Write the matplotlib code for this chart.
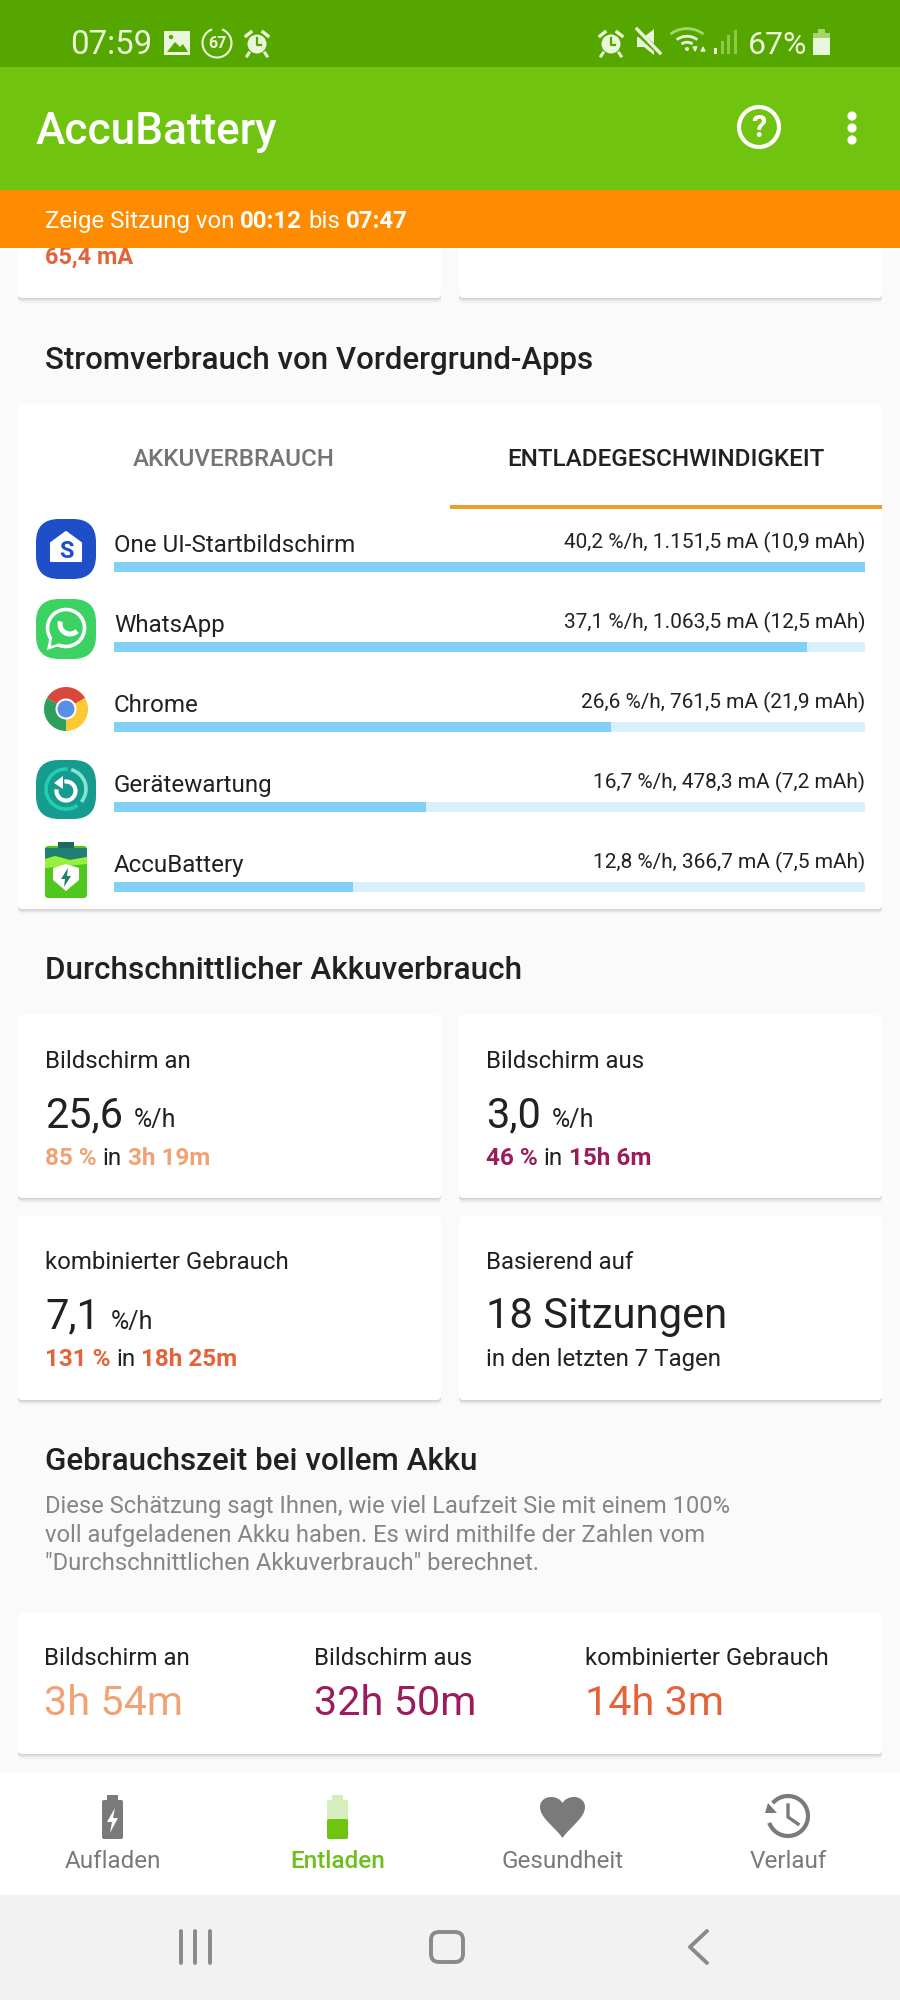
import matplotlib
matplotlib.use('Agg')
import matplotlib.pyplot as plt
from matplotlib.patches import Rectangle, FancyBboxPatch, Circle, Wedge, Arc, Polygon, PathPatch
from matplotlib.path import Path

plt.rcParams['font.family'] = ['Roboto', 'DejaVu Sans']

# app list values
apps = ['One UI-Startbildschirm', 'WhatsApp', 'Chrome', 'Gerätewartung', 'AccuBattery']
rates = [40.2, 37.1, 26.6, 16.7, 12.8]
currents = ['1.151,5', '1.063,5', '761,5', '478,3', '366,7']
used = ['10,9', '12,5', '21,9', '7,2', '7,5']

avg_titles = ['Bildschirm an', 'Bildschirm aus', 'kombinierter Gebrauch']
avg_rates = ['25,6', '3,0', '7,1']
avg_percent = ['85 %', '46 %', '131 %']
avg_time = ['3h 19m', '15h 6m', '18h 25m']
full_time = ['3h 54m', '32h 50m', '14h 3m']
nav_labels = ['Aufladen', 'Entladen', 'Gesundheit', 'Verlauf']

BG = '#FAFAFA'
DARK = '#212121'
GREY = '#7A7A7A'
STATUS = '#EAF6DC'
GREEN = '#70C40F'
usage_colors = ['#F0A274', '#9B1B5C', '#E4633A']

W, H = 900, 2000
fig = plt.figure(figsize=(W / 100, H / 100), dpi=100, facecolor=BG)
ax = fig.add_axes([0, 0, 1, 1])
ax.set_xlim(0, W)
ax.set_ylim(H, 0)
ax.axis('off')


def txt(x, y, s, px, color=DARK, weight='normal', ha='left', z=5):
    return ax.text(x, y, s, fontsize=px * 0.72, color=color, fontweight=weight,
                   ha=ha, va='baseline', zorder=z)


def run(x, y, parts, px, z=5):
    # several coloured pieces on one baseline
    rend = fig.canvas.get_renderer()
    for s, color, weight in parts:
        t = txt(x, y, s, px, color, weight, z=z)
        x += t.get_window_extent(rend).width + px * 0.24


def rect(x0, y0, x1, y1, color, z=1, alpha=1):
    ax.add_patch(Rectangle((x0, y0), x1 - x0, y1 - y0, fc=color, ec='none', zorder=z, alpha=alpha))


def card(x0, y0, x1, y1):
    for off, a in [(5, 0.03), (3, 0.05), (1.5, 0.08)]:
        ax.add_patch(FancyBboxPatch((x0, y0 + off), x1 - x0, y1 - y0, boxstyle='round,pad=0,rounding_size=4',
                                    fc='black', ec='none', alpha=a, zorder=1))
    ax.add_patch(FancyBboxPatch((x0, y0), x1 - x0, y1 - y0, boxstyle='round,pad=0,rounding_size=4',
                                fc='white', ec='none', zorder=2))


def squircle(x0, y0, x1, y1, color, r=23, z=4):
    ax.add_patch(FancyBboxPatch((x0, y0), x1 - x0, y1 - y0, boxstyle='round,pad=0,rounding_size=%d' % r,
                                fc=color, ec='none', zorder=z))


def alarm(cx, cy, color):
    ax.add_patch(Circle((cx, cy), 9.5, fc=color, ec='none', zorder=9))
    ax.plot([cx, cx, cx + 4], [cy - 6, cy + 1, cy + 1], color='#56A600', lw=1.6, zorder=10)
    ax.plot([cx - 11, cx - 6], [cy - 8, cy - 12], color=color, lw=2.4, zorder=9)
    ax.plot([cx + 11, cx + 6], [cy - 8, cy - 12], color=color, lw=2.4, zorder=9)
    ax.plot([cx - 8, cx - 10], [cy + 9, cy + 12], color=color, lw=2.2, zorder=9)
    ax.plot([cx + 8, cx + 10], [cy + 9, cy + 12], color=color, lw=2.2, zorder=9)


# ---- top bars
rect(0, 0, W, 67, '#56A600', 8)
rect(0, 67, W, 190, GREEN, 8)
rect(0, 190, W, 248, '#FF8C00', 8)
txt(70, 54, '07:59', 33, STATUS, z=9)
rect(164, 31, 190, 55, STATUS, 9)
ax.add_patch(Polygon([(167, 52), (175, 42), (180, 47), (183, 44), (188, 52)], fc='#56A600', ec='none', zorder=10))
ax.add_patch(Circle((171, 37), 2.2, fc='#56A600', ec='none', zorder=10))
ax.add_patch(Arc((217, 43), 29, 29, theta1=-70, theta2=250, color=STATUS, lw=1.5, zorder=9))
ax.text(217, 43, '67', fontsize=11.5, color=STATUS, ha='center', va='center', fontweight='bold', zorder=9)
alarm(257, 44, STATUS)

alarm(611, 44, STATUS)
ax.add_patch(Polygon([(637, 37), (644, 37), (654, 29), (654, 55), (644, 47), (637, 47)], fc=STATUS, ec='none', zorder=9))
ax.plot([636, 661], [31, 54], color='#56A600', lw=4, zorder=10)
ax.plot([637, 660], [29, 53], color=STATUS, lw=2.4, zorder=11)
for r, c in [(24, '#A5D66C'), (15, STATUS), (8, STATUS)]:
    ax.add_patch(Arc((687, 49), r * 2, r * 1.7, theta1=222, theta2=318, color=c, lw=2, zorder=9))
ax.add_patch(Circle((687, 49), 2, fc=STATUS, ec='none', zorder=9))
ax.annotate('', xy=(695, 55), xytext=(695, 46), arrowprops=dict(arrowstyle='-|>', color=STATUS, lw=1.2, mutation_scale=6), zorder=9)
ax.annotate('', xy=(703, 43), xytext=(703, 53), arrowprops=dict(arrowstyle='-|>', color=STATUS, lw=1.2, mutation_scale=6), zorder=9)
for i, top in enumerate([48, 41, 35, 30]):
    rect(714 + i * 6.6, top, 717 + i * 6.6, 54, STATUS if i == 0 else '#8CCB4A', 9)
txt(748, 54, '67%', 32, STATUS, z=9)
rect(818, 29, 825, 33, '#A5D66C', 9)
rect(813, 33, 830, 38, '#A5D66C', 9)
rect(813, 38, 830, 55, STATUS, 9)

txt(36, 144, 'AccuBattery', 44.2, 'white', 'medium', z=9)
ax.add_patch(Circle((759, 127), 20, fc='none', ec='white', lw=3, zorder=9))
ax.text(759, 128, '?', fontsize=22, color='white', fontweight='bold', ha='center', va='center', zorder=9)
for yy in [116, 128, 140]:
    ax.add_patch(Circle((852, yy), 4.6, fc='white', ec='none', zorder=9))

run(45, 228, [('Zeige Sitzung von', 'white', 'normal'), ('00:12', 'white', 'bold'),
              ('bis', 'white', 'normal'), ('07:47', 'white', 'bold')], 24, z=9)

# ---- cards cut off by the banner
card(18, 230, 441, 298)
card(459, 230, 882, 298)
txt(45, 264, '65,4 mA', 23.5, usage_colors[2], 'bold')

txt(45, 369, 'Stromverbrauch von Vordergrund-Apps', 31.3, DARK, 'medium')

# ---- app list card
card(18, 404, 882, 909)
txt(233.5, 466, 'AKKUVERBRAUCH', 24.1, '#757575', 'medium', ha='center')
txt(666, 466, 'ENTLADEGESCHWINDIGKEIT', 24.2, DARK, 'medium', ha='center')
rect(450, 505, 882, 509, '#E8A02C', 5)

for i, app in enumerate(apps):
    txt(114, 552 + 80 * i, app, 24.1)
    label = '%s %%/h, %s mA (%s mAh)' % (str(rates[i]).replace('.', ','), currents[i], used[i])
    txt(865, 548 + 80 * i, label, 20.9, ha='right')

# bars share one small axes, full width is the fastest app
ax_bar = fig.add_axes([114 / W, 1 - 903 / H, (865 - 114) / W, (903 - 527) / H])
ax_bar.patch.set_alpha(0)
ax_bar.barh(range(len(apps)), [max(rates)] * len(apps), height=0.125, color='#D9F0FC')
ax_bar.barh(range(len(apps)), rates, height=0.125, color='#81D0F6')
ax_bar.set_xlim(0, max(rates))
ax_bar.set_ylim(4.2, -0.5)
ax_bar.axis('off')

# One UI icon
squircle(36, 519, 96, 579, '#1F4FC8')
ax.add_patch(Polygon([(66, 532), (81, 543), (81, 561), (51, 561), (51, 543)], fc='white', ec='white', lw=1.5, joinstyle='round', zorder=5))
ax.text(66, 551, 'S', fontsize=17, color='#1F4FC8', fontweight='bold', ha='center', va='center', zorder=6)

# WhatsApp icon
squircle(36, 599, 96, 659, '#3CD263')
ax.add_patch(Polygon([(50, 635), (47, 650), (62, 645)], fc='white', ec='none', zorder=5))
ax.add_patch(Circle((66, 628), 18.5, fc='#3CD263', ec='white', lw=2.6, zorder=5))
ax.add_patch(Polygon([(52, 637), (51, 646), (60, 643)], fc='#3CD263', ec='none', zorder=6))
ax.add_patch(Arc((70, 624), 20, 20, theta1=45, theta2=195, color='white', lw=3.6, zorder=6))

# Chrome icon
for t1, t2, c in [(210, 330, '#D9483B'), (330, 450, '#FCC934'), (90, 210, '#2E9E5B')]:
    ax.add_patch(Wedge((66, 709), 22, t1, t2, fc=c, ec='none', zorder=5))
ax.add_patch(Circle((66, 709), 10.5, fc='white', ec='none', zorder=6))
ax.add_patch(Circle((66, 709), 8.5, fc='#5A8FE8', ec='none', zorder=7))

# device care icon
squircle(36, 760, 96, 819, '#169C8E')
ax.add_patch(Arc((66, 789), 40, 40, theta1=-75, theta2=40, color='#7FE6CF', lw=2.6, zorder=5))
ax.add_patch(Arc((66, 789), 40, 40, theta1=55, theta2=275, color='#22CDB0', lw=2.6, zorder=5))
ax.add_patch(Arc((66, 791), 19, 19, theta1=-100, theta2=190, color='white', lw=3, zorder=5))
ax.add_patch(Polygon([(54, 783), (63, 776), (63, 789)], fc='white', ec='none', zorder=6))

# AccuBattery icon
rect(58, 842, 74, 848, '#1D6B60', 5)
ax.add_patch(FancyBboxPatch((45, 846), 42, 52, boxstyle='round,pad=0,rounding_size=3', fc='#4FC71F', ec='none', zorder=4))
ax.add_patch(Polygon([(45, 848), (87, 848), (87, 857), (70, 860), (55, 856), (45, 859)], fc='#1F7F70', ec='none', zorder=5))
ax.add_patch(Polygon([(45, 859), (55, 856), (70, 860), (87, 857), (87, 864), (45, 868)], fc='#96F03C', ec='none', zorder=5))
ax.add_patch(Polygon([(66, 864), (79, 868), (79, 880), (66, 891), (53, 880), (53, 868)], fc='white', ec='none', zorder=6))
ax.add_patch(Polygon([(68, 868), (61, 879), (65, 879), (64, 887), (71, 876), (67, 876)], fc='#1F7F70', ec='none', zorder=7))

# ---- average usage cards
txt(45, 979, 'Durchschnittlicher Akkuverbrauch', 31.5, DARK, 'medium')
card(18, 1015, 441, 1198)
card(459, 1015, 882, 1198)
card(18, 1216, 441, 1400)
card(459, 1216, 882, 1400)

avg_x = [45, 486, 45]
avg_y = [0, 0, 201]
unit_x = [134, 552, 111]
for i in range(3):
    x, dy = avg_x[i], avg_y[i]
    txt(x, 1068 + dy, avg_titles[i], 24)
    txt(x, 1127.5 + dy, avg_rates[i], 41.5)
    txt(unit_x[i], 1127.5 + dy, '%/h', 25)
    run(x, 1165 + dy, [(avg_percent[i], usage_colors[i], 'bold'), ('in', DARK, 'normal'),
                       (avg_time[i], usage_colors[i], 'bold')], 24.3)

txt(486, 1269, 'Basierend auf', 24)
txt(486, 1328, '18 Sitzungen', 41.7)
txt(486, 1366, 'in den letzten 7 Tagen', 24)

txt(45, 1469.5, 'Gebrauchszeit bei vollem Akku', 31.4, DARK, 'medium')
txt(45, 1513, 'Diese Schätzung sagt Ihnen, wie viel Laufzeit Sie mit einem 100%', 23.8, '#858585')
txt(45, 1542, 'voll aufgeladenen Akku haben. Es wird mithilfe der Zahlen vom', 23.8, '#858585')
txt(45, 1570, '"Durchschnittlichen Akkuverbrauch" berechnet.', 23.8, '#858585')

# ---- full charge card
card(18, 1613, 882, 1754)
full_x = [44, 314, 585]
for i in range(3):
    txt(full_x[i], 1665, avg_titles[i], 24)
    txt(full_x[i], 1715, full_time[i], 41.4, usage_colors[i])

# ---- bottom navigation
rect(0, 1773, W, 1895, 'white', 3)
rect(0, 1895, W, H, '#F2F2F2', 3)
nav_x = [113, 337.5, 562.5, 788]
for i, name in enumerate(nav_labels):
    txt(nav_x[i], 1868, name, 24.2, '#6FBF1B' if i == 1 else GREY, 'medium' if i == 1 else 'normal', ha='center')

rect(107, 1795, 118, 1801, GREY, 5)
ax.add_patch(FancyBboxPatch((102, 1800), 21, 39, boxstyle='round,pad=0,rounding_size=2', fc=GREY, ec='none', zorder=5))
ax.add_patch(Polygon([(115, 1808), (107, 1822), (112, 1822), (110, 1833), (118, 1818), (113, 1818)], fc='white', ec='none', zorder=6))

rect(332, 1795, 343, 1801, '#D5EEBB', 5)
ax.add_patch(FancyBboxPatch((327, 1800), 21, 39, boxstyle='round,pad=0,rounding_size=2', fc='#D5EEBB', ec='none', zorder=5))
ax.add_patch(FancyBboxPatch((327, 1819), 21, 20, boxstyle='round,pad=0,rounding_size=2', fc=GREEN, ec='none', zorder=6))

heart = Path([(562.5, 1838), (555, 1827), (540, 1818), (540, 1807), (540, 1801), (545, 1797), (551, 1797),
              (556, 1797), (560, 1799), (562.5, 1803), (565, 1799), (569, 1797), (574, 1797),
              (580, 1797), (585, 1801), (585, 1807), (585, 1818), (570, 1827), (562.5, 1838)],
             [Path.MOVETO] + [Path.CURVE4] * 18)
ax.add_patch(PathPatch(heart, fc=GREY, ec='none', zorder=5))

ax.add_patch(Arc((788, 1816), 40, 40, theta1=-140, theta2=160, color=GREY, lw=3, zorder=5))
ax.add_patch(Polygon([(765, 1813), (777, 1813), (768, 1803)], fc=GREY, ec='none', zorder=5))
ax.plot([788, 788, 798], [1805, 1817, 1824], color=GREY, lw=2.4, zorder=5)

for x in [181, 195, 210]:
    ax.plot([x, x], [1931, 1963], color='#8A8A8A', lw=2.8, zorder=5, solid_capstyle='round')
ax.add_patch(FancyBboxPatch((431, 1932), 32, 30, boxstyle='round,pad=0,rounding_size=8', fc='none', ec='#8A8A8A', lw=2.8, zorder=5))
ax.plot([707, 690, 707], [1931, 1947, 1963], color='#8A8A8A', lw=2.8, zorder=5, solid_capstyle='round')

fig.savefig('out.png', dpi=100, facecolor=BG)
plt.close()
